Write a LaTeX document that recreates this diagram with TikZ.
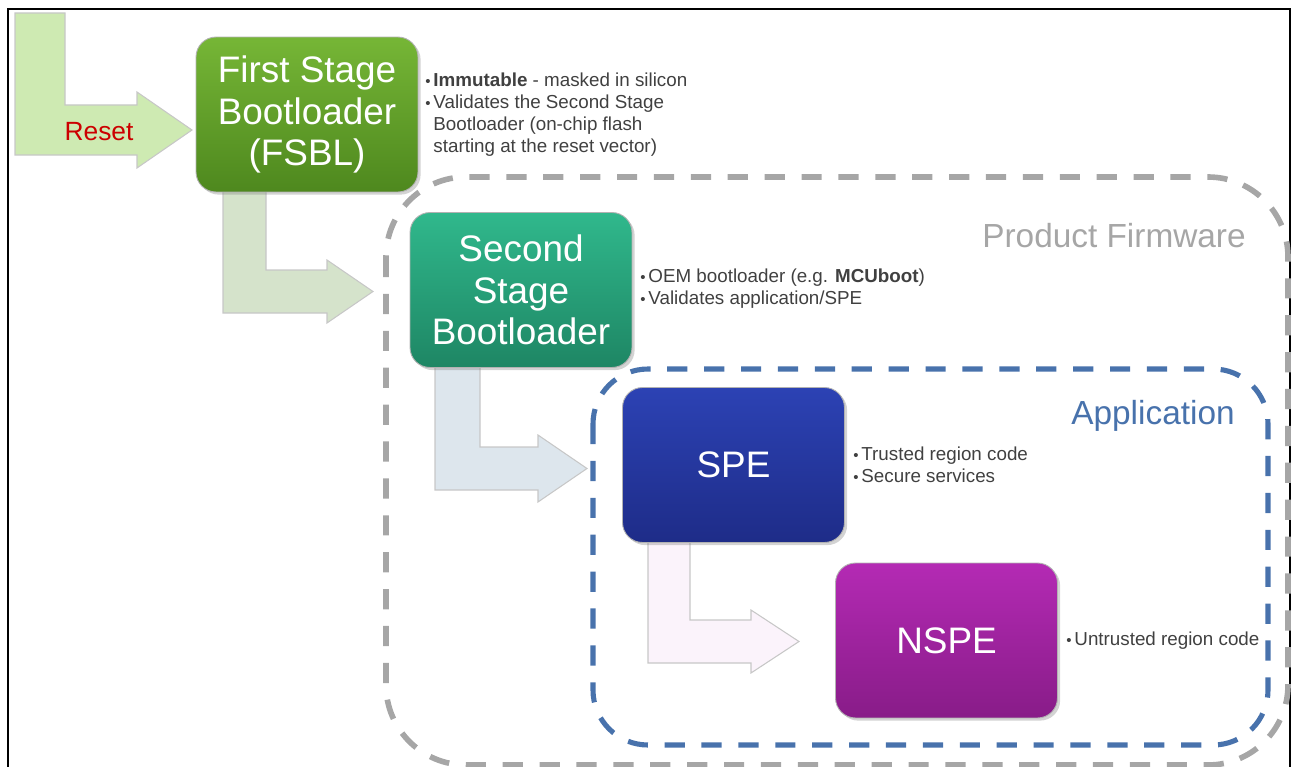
\documentclass[tikz,border=0pt]{standalone}
\usepackage{fontspec}
\setmainfont{Liberation Sans}
\usetikzlibrary{shadows}

\definecolor{fsblTop}{RGB}{118,182,54}
\definecolor{fsblBot}{RGB}{78,136,30}
\definecolor{ssblTop}{RGB}{48,184,140}
\definecolor{ssblBot}{RGB}{30,134,100}
\definecolor{speTop}{RGB}{44,66,180}
\definecolor{speBot}{RGB}{30,44,136}
\definecolor{nspeTop}{RGB}{180,42,180}
\definecolor{nspeBot}{RGB}{136,28,136}
\definecolor{resetFill}{RGB}{206,234,178}
\definecolor{fsblFill}{RGB}{213,227,203}
\definecolor{ssblFill}{RGB}{221,230,237}
\definecolor{speFill}{RGB}{251,243,251}
\definecolor{zoneGray}{RGB}{166,166,166}
\definecolor{zoneBlue}{RGB}{72,114,172}
\definecolor{noteGray}{RGB}{64,64,64}
\definecolor{resetRed}{RGB}{204,0,0}

\tikzset{
  stage/.style={rounded corners=0.4cm, minimum width=4.44cm, minimum height=3.1cm,
    align=center, text=white, draw=black!30, line width=0.5pt,
    font=\fontsize{21}{23.5}\selectfont,
    drop shadow={opacity=0.35, shadow xshift=1.5pt, shadow yshift=-1.5pt}},
  note/.style={anchor=west, align=left, inner sep=0pt, text=noteGray,
    font=\fontsize{10.7}{12.5}\selectfont},
  bentline/.style={draw=black!22, line width=0.6pt},
  zone/.style={dash pattern=on 11.5pt off 9.5pt, line width=3.2pt},
  zonelabel/.style={inner sep=0pt, font=\fontsize{19}{22}\selectfont}
}

% bullet with a small hang
\newcommand{\bul}{\makebox[4.6pt][l]{\scalebox{0.8}{\textbullet}}}
% bent arrow: colour, x left, x right, y top, bar top, bar bottom, head x, overhang, tip x
\newcommand{\bentarrow}[9]{%
  \draw[bentline,fill=#1] (#2,#4) -- (#3,#4) -- (#3,#5) -- (#7,#5) -- ({#7},{#5-#8})
    -- ({#9},{(#5+#6)/2}) -- ({#7},{#6+#8}) -- (#7,#6) -- (#2,#6) -- cycle;}

\begin{document}
\begin{tikzpicture}[x=0.02cm,y=-0.02cm]
\clip (0,0) rectangle (1295,767);
% outer frame
\draw[line width=1.3pt] (8,9) rectangle (1290,800);

% dashed zones
\draw[zone,draw=zoneGray,rounded corners=1.6cm] (386,177) rectangle (1288,765);
\draw[zone,draw=zoneBlue,rounded corners=1.1cm,line width=2.9pt] (593,369) rectangle (1268,745);
\node[zonelabel,text=zoneGray] (firmwarelabel) at (1114,236) {Product Firmware};
\node[zonelabel,text=zoneBlue] (applabel) at (1153,416) {Application};

% bent arrows between the stages
\bentarrow{resetFill}{15}{65}{13}{105}{155}{137}{13}{192}
\bentarrow{fsblFill}{223}{266}{180}{270}{313}{327}{10}{373}
\bentarrow{ssblFill}{435}{480}{360}{447}{490}{538}{12}{587}
\bentarrow{speFill}{648}{690}{535}{620}{663}{751}{10}{799}
\node[text=resetRed,font=\fontsize{15}{18}\selectfont] (resetlabel) at (99,132) {Reset};

% stages
\node[stage,top color=fsblTop,bottom color=fsblBot] (fsbl) at (307,114.5) {First Stage\\Bootloader\\(FSBL)};
\node[stage,top color=ssblTop,bottom color=ssblBot] (ssbl) at (521,290) {Second\\Stage\\Bootloader};
\node[stage,top color=speTop,bottom color=speBot] (spe) at (733.5,465) {SPE};
\node[stage,top color=nspeTop,bottom color=nspeBot] (nspe) at (946.5,640.5) {NSPE};

% notes
\node[note] (fsblnote) at (425,115) {\bul\textbf{Immutable} - masked in silicon\\
  \bul Validates the Second Stage\\
  \hphantom{\bul}Bootloader (on-chip flash\\
  \hphantom{\bul}starting at the reset vector)};
\node[note] (ssblnote) at (640,289) {\bul OEM bootloader (e.g. \textbf{MCUboot})\\
  \bul Validates application/SPE};
\node[note] (spenote) at (853,465) {\bul Trusted region code\\
  \bul Secure services};
\node[note] (nspenote) at (1066,641) {\bul Untrusted region code};
\end{tikzpicture}
\end{document}
